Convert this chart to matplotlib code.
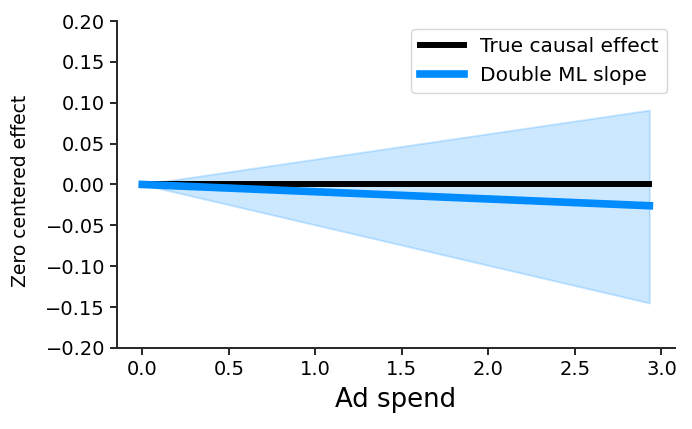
import matplotlib
matplotlib.use('Agg')
import matplotlib.pyplot as plt

# data: straight lines from origin, endpoints
ad_spend = [0.0, 2.93]
true_effect = [0.0, 0.0]
dml_slope = [0.0, -0.026]
ci_upper = [0.0, 0.091]
ci_lower = [0.0, -0.145]

y_ticks = [-0.2, -0.15, -0.1, -0.05, 0.0, 0.05, 0.1, 0.15, 0.2]
x_ticks = [0.0, 0.5, 1.0, 1.5, 2.0, 2.5, 3.0]

BLUE = '#008cff'
DARK = '#262626'

fig = plt.figure(figsize=(6.92, 4.29), dpi=100)
ax = fig.add_axes([0.169, 0.189, 0.806, 0.762])

ax.plot(ad_spend, true_effect, color='black', lw=4.3, label='True causal effect', zorder=3)
ax.plot(ad_spend, dml_slope, color=BLUE, lw=5.5, label='Double ML slope', zorder=4)
ax.fill_between(ad_spend, ci_lower, ci_upper, color=BLUE, alpha=0.2, lw=1.4, zorder=1)

ax.set_ylim(-0.2, 0.2)
ax.set_yticks(y_ticks)
ax.set_xticks(x_ticks)

ax.tick_params(labelsize=14, length=5, width=1.4, color=DARK, labelcolor='black')
for s in ['top', 'right']:
    ax.spines[s].set_visible(False)
for s in ['left', 'bottom']:
    ax.spines[s].set_linewidth(1.4)
    ax.spines[s].set_color(DARK)

ax.set_xlabel('Ad spend', fontsize=18.7, labelpad=6)
ax.set_ylabel('Zero centered effect', fontsize=13.5)
ax.yaxis.set_label_coords(-0.156, 0.479)
ax.legend(loc='upper right', fontsize=14.5, handlelength=2.2,
          borderaxespad=0.4)

fig.savefig('out.png', dpi=100)
